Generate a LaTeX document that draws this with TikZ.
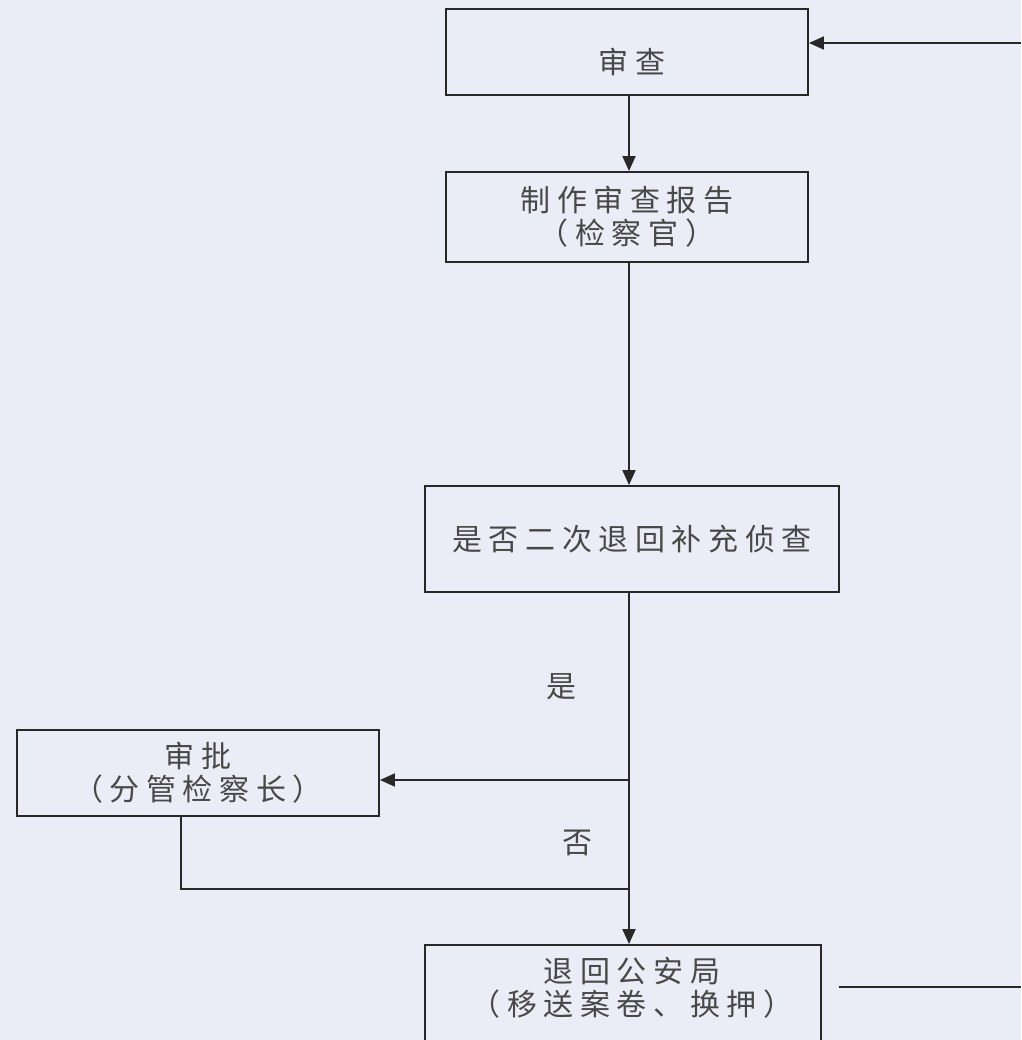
\documentclass[tikz,border=0pt]{standalone}
\usepackage{fontspec}
\newfontfamily\cjk[LetterSpace=22]{Noto Sans CJK SC}
\usetikzlibrary{arrows.meta}
\definecolor{bgc}{RGB}{234,237,246}
\definecolor{ln}{RGB}{40,40,40}
\begin{document}
\begin{tikzpicture}[x=1pt,y=-1pt,
  boxstyle/.style={draw=ln,line width=1.9pt,inner sep=0pt,align=center,font=\cjk\fontsize{30}{33}\selectfont,text=ln!85},
  txt/.style={inner sep=0pt,align=center,font=\cjk\fontsize{30}{33}\selectfont,text=ln!85},
  conn/.style={draw=ln,line width=1.9pt},
  arr/.style={conn,-{Triangle[length=15pt,width=13pt]}}]
\fill[bgc] (0,0) rectangle (1021,1040);
\useasboundingbox (0,0) rectangle (1021,1040);
% boxes
\node[boxstyle,minimum width=362pt,minimum height=86pt] (b1) at (627,52) {};
\node[txt] (t1) at (632,62) {审查};
\node[boxstyle,minimum width=362pt,minimum height=90pt] (b2) at (627,217) {制作审查报告\\（检察官）};
\node[boxstyle,minimum width=414pt,minimum height=106pt] (b3) at (632,539) {是否二次退回补充侦查};
\node[boxstyle,minimum width=362pt,minimum height=86pt] (b4) at (198,773) {审批\\（分管检察长）};
\node[boxstyle,minimum width=396pt,minimum height=130pt] (b5) at (623,1010) {};
\node[txt] (t5) at (632,988) {退回公安局\\（移送案卷、换押）};
% labels
\node[txt] (yes) at (561,687) {是};
\node[txt] (no) at (577,843) {否};
% coordinates
\coordinate (in1) at (1021,43);
\coordinate (j1) at (629,780);
\coordinate (r0) at (181,816);
\coordinate (r1) at (181,889);
\coordinate (r2) at (629,889);
\coordinate (o1) at (839,987);
\coordinate (o2) at (1021,987);
% connectors
\draw[arr] (in1) -- (in1 -| b1.east);
\draw[arr] (b1.south -| j1) -- (b2.north -| j1);
\draw[arr] (b2.south -| j1) -- (b3.north -| j1);
\draw[arr] (b3.south -| j1) -- (b5.north -| j1);
\draw[arr] (j1) -- (j1 -| b4.east);
\draw[conn] (b4.south -| r0) -- (r1) -- (r2);
\draw[conn] (o1) -- (o2);
\end{tikzpicture}
\end{document}
